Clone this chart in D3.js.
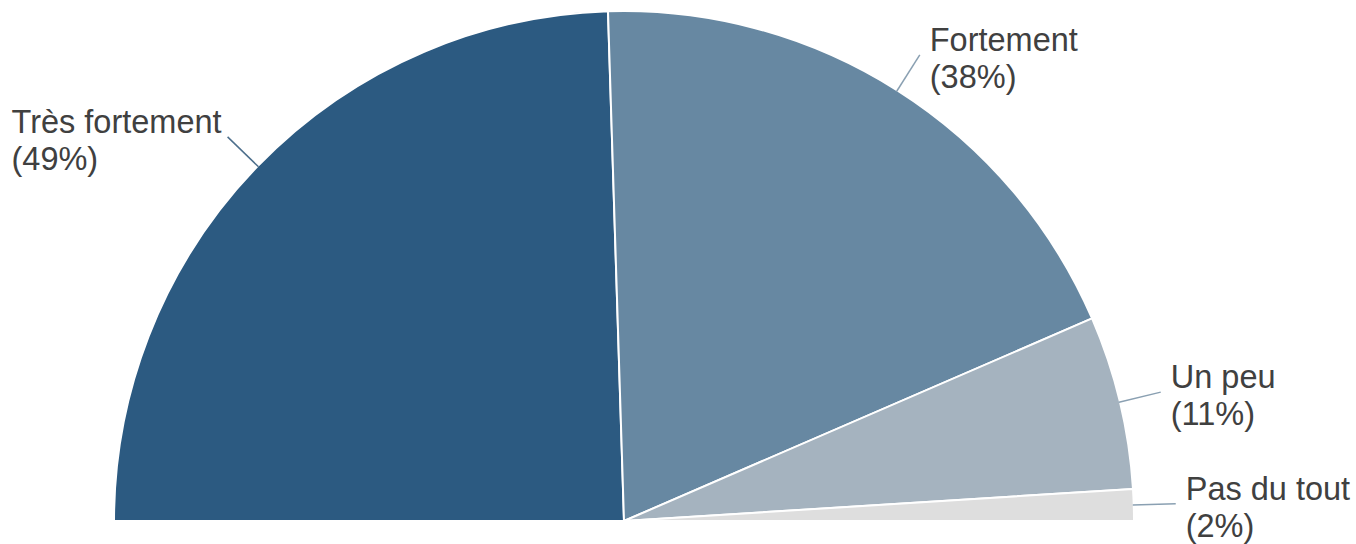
<!DOCTYPE html>
<html><head><meta charset="utf-8">
<script src="https://cdn.jsdelivr.net/npm/d3@7"></script>
<style>html,body{margin:0;padding:0;background:#fff;}svg{display:block;}</style>
</head><body>
<svg id="chart" width="1356" height="544"></svg>
<script>
const categories = ["Très fortement", "Fortement", "Un peu", "Pas du tout"];
const values = [49, 38, 11, 2];
const labels = ["(49%)", "(38%)", "(11%)", "(2%)"];
const colors = ["#2c5a81", "#6788a2", "#a5b3bf", "#dedede"];

const svg = d3.select("#chart");
const cx = 624, cy = 521, r = 510;
const g = svg.append("g").attr("transform", `translate(${cx},${cy})`);

const data = categories.map((c, i) => ({cat: c, value: values[i], label: labels[i], color: colors[i]}));
const pie = d3.pie().value(d => d.value).sort(null)
  .startAngle(-Math.PI / 2).endAngle(Math.PI / 2);
const arcs = pie(data);
const arc = d3.arc().innerRadius(0).outerRadius(r);

g.selectAll("path.slice").data(arcs).join("path")
  .attr("class", "slice")
  .attr("d", arc)
  .attr("fill", d => d.data.color)
  .attr("stroke", "#fff")
  .attr("stroke-width", 2)
  .attr("stroke-linejoin", "round");

const lineIn = r - 1, lineOut = r + 42;
arcs.forEach(d => {
  const a = (d.startAngle + d.endAngle) / 2;
  const sx = Math.sin(a), sy = -Math.cos(a);
  const x1 = sx * lineIn, y1 = sy * lineIn, x2 = sx * lineOut, y2 = sy * lineOut;
  const right = sx > 0;
  g.append("line")
    .attr("x1", x1).attr("y1", y1).attr("x2", x2).attr("y2", y2)
    .attr("stroke", right ? "#8aa0b2" : "#4d6f8c")
    .attr("stroke-width", 1.5);
  const tx = right ? x2 + 10 : x2 - 6;
  const t = g.append("text")
    .attr("x", tx).attr("y", y2 - 4)
    .attr("text-anchor", right ? "start" : "end")
    .attr("font-family", "'Liberation Sans', Arial, sans-serif")
    .attr("font-size", 32.5)
    .attr("fill", "#404040");
  t.append("tspan").attr("x", tx).text(d.data.cat);
  t.append("tspan").attr("x", tx).attr("dy", 37).attr("text-anchor", "start")
    .attr("x", right ? tx : tx - t.node().getComputedTextLength())
    .text(d.data.label);
});
</script>
</body></html>
